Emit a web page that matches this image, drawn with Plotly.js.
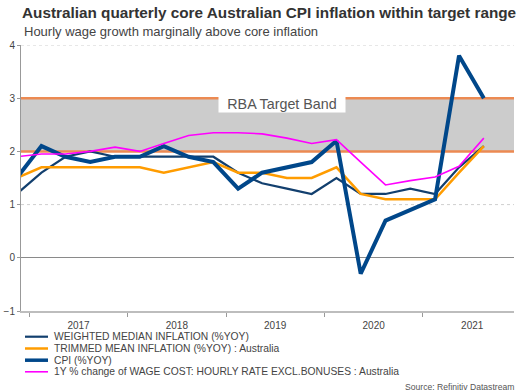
<!DOCTYPE html>
<html>
<head>
<meta charset="utf-8">
<script src="https://cdn.plot.ly/plotly-3.0.1.min.js"></script>
<style>html,body{margin:0;padding:0;background:#fff;}#chart{width:524px;height:392px;}</style>
</head>
<body>
<div id="chart"></div>
<script>
const quarters = ['2016-11-15','2017-02-15','2017-05-15','2017-08-15','2017-11-15',
  '2018-02-15','2018-05-15','2018-08-15','2018-11-15',
  '2019-02-15','2019-05-15','2019-08-15','2019-11-15',
  '2020-02-15','2020-05-15','2020-08-15','2020-11-15',
  '2021-02-15','2021-05-15','2021-08-15'];
const weightedMedian = [1.2,1.6,1.9,2.0,1.9,1.9,1.9,1.9,1.9,1.6,1.4,1.3,1.2,1.5,1.2,1.2,1.3,1.2,1.7,2.1];
const trimmedMean = [1.5,1.7,1.7,1.7,1.7,1.7,1.6,1.7,1.8,1.6,1.6,1.5,1.5,1.7,1.2,1.1,1.1,1.1,1.6,2.1];
const cpi = [1.5,2.1,1.9,1.8,1.9,1.9,2.1,1.9,1.8,1.3,1.6,1.7,1.8,2.2,-0.3,0.7,0.9,1.1,3.8,3.0];
const wageGrowth = [1.9,1.95,1.95,2.0,2.08,2.0,2.15,2.3,2.35,2.35,2.33,2.25,2.15,2.22,1.8,1.37,1.45,1.52,1.72,2.25];
const seriesNames = ['WEIGHTED MEDIAN INFLATION (%YOY)',
  'TRIMMED MEAN INFLATION (%YOY) : Australia',
  'CPI (%YOY)',
  '1Y % change of WAGE COST: HOURLY RATE EXCL.BONUSES : Australia'];
const bandLow = 2, bandHigh = 3;
const yTicks = [-1,0,1,2,3,4];

const colors = ['#123f6e', '#ff9c00', '#00478a', '#ff00ff'];
const widths = [2.2, 2.5, 4, 1.6];
const seriesData = [weightedMedian, trimmedMean, cpi, wageGrowth];

const M = {l:21, r:10, t:45, b:81};
const W = 524, H = 392;
const PW = W - M.l - M.r, PH = H - M.t - M.b;
const px = x => (x - M.l) / PW;
const py = y => (H - M.b - y) / PH;

const traces = seriesData.map((d, i) => ({
  type: 'scatter', mode: 'lines', x: quarters, y: d, name: seriesNames[i],
  line: {color: colors[i], width: widths[i]}, showlegend: false, hoverinfo: 'x+y'
}));

const FONT = 'Liberation Sans, Arial, sans-serif';
const shapes = [];
// dotted gridlines (skipping those covered by the band edges and the zero line)
yTicks.filter(v => v > 0 && v !== bandLow && v !== bandHigh).forEach(v => {
  shapes.push({type:'line', xref:'paper', x0:0, x1:1, yref:'y', y0:v, y1:v,
    line:{color:'#cfcfcf', width:1, dash:'dot'}, layer:'below'});
});
shapes.push(
  {type:'rect', xref:'paper', x0:0, x1:1, yref:'y', y0:bandLow, y1:bandHigh, fillcolor:'#cccccc', line:{width:0}, layer:'below'},
  {type:'line', xref:'paper', x0:0, x1:1, yref:'y', y0:bandLow, y1:bandLow, line:{color:'#ec8a52', width:2.5}, layer:'below'},
  {type:'line', xref:'paper', x0:0, x1:1, yref:'y', y0:bandHigh, y1:bandHigh, line:{color:'#ec8a52', width:2.5}, layer:'below'}
);
const legendRows = [336.7, 348.5, 360.2, 371.8];
const annotations = [
  {xref:'paper', yref:'paper', x:px(21.5), y:py(31.5), xanchor:'left', yanchor:'middle', showarrow:false,
   text:'Hourly wage growth marginally above core inflation', font:{family:FONT, size:13, color:'#444'}},
  {xref:'paper', yref:'paper', x:px(282), y:py(104), xanchor:'center', yanchor:'middle', showarrow:false,
   text:'RBA Target Band', font:{family:FONT, size:14.3, color:'#555'}, bgcolor:'#ffffff',
   width:126, height:16, borderpad:0, borderwidth:1, bordercolor:'rgba(0,0,0,0)'},
  {xref:'paper', yref:'paper', x:px(515.5), y:py(386.5), xanchor:'right', yanchor:'middle', showarrow:false,
   text:'Source: Refinitiv Datastream', font:{family:FONT, size:8.6, color:'#555'}}
];
seriesNames.forEach((n, i) => {
  shapes.push({type:'line', xref:'paper', yref:'paper', x0:px(25), x1:px(48), y0:py(legendRows[i]), y1:py(legendRows[i]),
    line:{color:colors[i], width: Math.min(widths[i], 3.5)}, layer:'above'});
  annotations.push({xref:'paper', yref:'paper', x:px(51.5), y:py(legendRows[i]), xanchor:'left', yanchor:'middle',
    showarrow:false, text:n, font:{family:FONT, size:10.3, color:'#444'}});
});

const layout = {
  width: W, height: H, margin: M, paper_bgcolor:'#fff', plot_bgcolor:'#fff',
  font: {family: FONT, color:'#444'},
  title: {text:'<b>Australian quarterly core Australian CPI inflation within target range</b>',
    font:{family:FONT, size:15.3, color:'#333'}, x:22/W, xanchor:'left', xref:'container',
    y:1-13/H, yanchor:'middle', yref:'container'},
  showlegend: false,
  xaxis: {type:'date', range:['2016-12-01','2021-12-05'], tick0:'2017-01-01', dtick:'M12',
    ticklabelmode:'period', tickformat:'%Y', ticks:'outside', ticklen:4, tickcolor:'#999',
    tickfont:{size:10, color:'#444'}, showgrid:false, showline:true, linecolor:'#bdbdbd', linewidth:2,
    zeroline:false, fixedrange:true},
  yaxis: {range:[-1,4], tickvals:yTicks, ticks:'outside', ticklen:3, tickcolor:'#999',
    tickfont:{size:10, color:'#444'}, showgrid:false,
    zeroline:true, zerolinecolor:'#8a8a8a', zerolinewidth:1, showline:true, linecolor:'#999', linewidth:1,
    fixedrange:true},
  shapes: shapes, annotations: annotations
};
Plotly.newPlot('chart', traces, layout, {displayModeBar:false, staticPlot:true});
</script>
</body>
</html>
